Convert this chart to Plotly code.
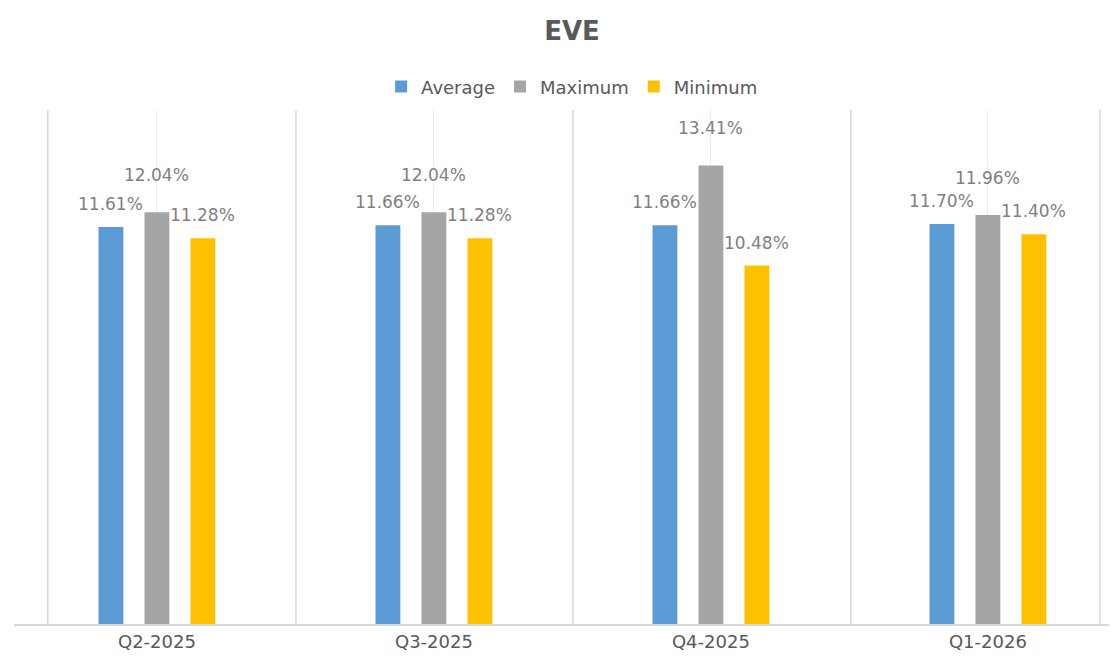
import plotly.graph_objects as go

# Datos
quarters = ["Q2-2025", "Q3-2025", "Q4-2025", "Q1-2026"]
average = [11.61, 11.66, 11.66, 11.70]
maximum = [12.04, 12.04, 13.41, 11.96]
minimum = [11.28, 11.28, 10.48, 11.40]

SERIES = [
    ("Average", average, "#5B9BD5", -0.166, 11),
    ("Maximum", maximum, "#A5A5A5", 0.0, 25),
    ("Minimum", minimum, "#FFC000", 0.166, 11),
]
FONT = "DejaVu Sans"
xs = list(range(len(quarters)))

fig = go.Figure()
for name, vals, color, _, _ in SERIES:
    fig.add_trace(go.Bar(x=xs, y=vals, name=name, marker_color=color,
                         marker_line_width=0, hoverinfo="y+name"))

# etiquetas de datos
annotations = []
for name, vals, color, off, shift in SERIES:
    for i, v in zip(xs, vals):
        annotations.append(dict(
            x=i + off, y=v, text=f"{v:.2f}%", showarrow=False,
            yanchor="bottom", yshift=shift,
            font=dict(family=FONT, size=17, color="#7F7F7F"),
        ))

# separadores entre categorias
shapes = [
    dict(type="line", x0=b, x1=b, y0=0, y1=15.03, xref="x", yref="y",
         line=dict(color="#D9D9D9", width=1.5), layer="below")
    for b in [-0.394, 0.502, 1.502, 2.505, 3.404]
]

fig.update_layout(
    width=1109, height=652,
    margin=dict(l=6, r=0, t=102, b=36),
    paper_bgcolor="white", plot_bgcolor="white",
    font=dict(family=FONT, color="#595959"),
    title=dict(text="<b>EVE</b>", x=0.5086, xanchor="center", y=0.965,
               yanchor="middle", font=dict(size=26, color="#595959")),
    legend=dict(orientation="h", x=0.506, xanchor="center", y=1.045,
                yanchor="middle", font=dict(size=18, color="#595959"),
                itemclick=False, tracegroupgap=0),
    barmode="group", bargap=0.502, bargroupgap=0.46,
    annotations=annotations, shapes=shapes,
    xaxis=dict(range=[-0.516, 3.466], tickvals=xs, ticktext=quarters,
               showgrid=True, gridcolor="#EDEDED", gridwidth=1,
               showline=True, linecolor="#D9D9D9", linewidth=2,
               zeroline=False, ticks="", tickfont=dict(size=18, color="#595959")),
    yaxis=dict(range=[0, 15.03], visible=False, showgrid=False, zeroline=False),
)

fig.write_html("out.html")
